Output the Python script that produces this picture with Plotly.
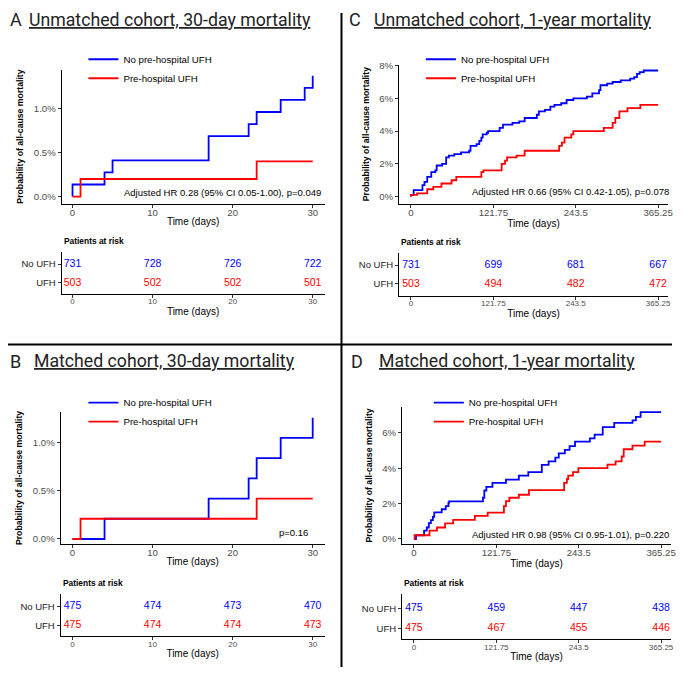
import plotly.graph_objects as go

# ---- data (percent mortality, step functions) ----
# A: unmatched cohort, 30 days
a_t_no = [0, 0, 4, 5, 17, 22, 23, 26, 29, 30]
a_p_no = [0, 0.137, 0.274, 0.41, 0.684, 0.82, 0.958, 1.094, 1.231, 1.368]
a_t_ufh = [0, 1, 23, 30]
a_p_ufh = [0, 0.199, 0.398, 0.398]
a_risk_no = [731, 728, 726, 722]
a_risk_ufh = [503, 502, 502, 501]

# B: matched cohort, 30 days
b_t_no = [0, 4, 17, 22, 23, 26, 30]
b_p_no = [0, 0.21, 0.42, 0.63, 0.84, 1.05, 1.26]
b_t_ufh = [0, 1, 23, 30]
b_p_ufh = [0, 0.21, 0.42, 0.42]
b_risk_no = [475, 474, 473, 470]
b_risk_ufh = [475, 474, 474, 473]

# C: unmatched cohort, 1 year
c_t_no = [0, 0, 4, 17, 20, 24, 30, 36, 38, 46, 52, 56, 64, 74, 86, 88, 97, 101, 104, 106,
          112, 114, 131, 136, 150, 160, 168, 186, 189, 198, 206, 212, 222, 230, 240, 260,
          268, 278, 280, 290, 298, 310, 324, 330, 334, 338, 344, 365.25]
c_p_no = [0, 0.1, 0.4, 0.7, 0.9, 1.2, 1.5, 1.6, 1.9, 2.0, 2.4, 2.5, 2.6, 2.7, 2.8, 3.1, 3.2,
          3.4, 3.6, 3.8, 3.9, 4.0, 4.2, 4.4, 4.5, 4.6, 4.8, 5.0, 5.2, 5.3, 5.5, 5.6, 5.7, 5.9,
          6.0, 6.1, 6.3, 6.5, 6.8, 6.9, 7.0, 7.1, 7.2, 7.3, 7.5, 7.6, 7.7, 7.7]
c_t_ufh = [0, 0, 9, 24, 33, 45, 60, 67, 104, 107, 134, 139, 142, 156, 168, 219, 223, 227,
           237, 240, 285, 298, 302, 308, 320, 339, 365.25]
c_p_ufh = [0, 0.1, 0.2, 0.45, 0.6, 0.8, 1.0, 1.2, 1.5, 1.6, 2.0, 2.2, 2.4, 2.5, 2.8, 3.1,
           3.3, 3.6, 3.8, 4.0, 4.2, 4.5, 4.8, 5.2, 5.4, 5.6, 5.6]
c_risk_no = [731, 699, 681, 667]
c_risk_ufh = [503, 494, 482, 472]

# D: matched cohort, 1 year
d_t_no = [0, 3, 15, 19, 22, 25, 28, 30, 41, 47, 51, 52, 102, 104, 107, 116, 136, 155, 169,
          189, 199, 209, 214, 223, 230, 238, 260, 267, 279, 296, 323, 328, 335, 365.25]
d_p_no = [0, 0.21, 0.47, 0.65, 0.9, 1.06, 1.25, 1.5, 1.68, 1.86, 2.05, 2.12, 2.33, 2.74,
          2.94, 3.17, 3.35, 3.58, 3.78, 4.19, 4.38, 4.6, 4.84, 5.03, 5.25, 5.5, 5.68, 5.9,
          6.32, 6.56, 6.7, 6.9, 7.17, 7.17]
d_t_ufh = [0, 1, 23, 34, 46, 58, 90, 109, 133, 136, 141, 155, 170, 222, 226, 228, 235, 243,
           286, 298, 307, 310, 323, 341, 365.25]
d_p_ufh = [0, 0.21, 0.47, 0.65, 0.88, 1.08, 1.3, 1.49, 1.86, 2.14, 2.33, 2.5, 2.76, 3.17,
           3.39, 3.58, 3.78, 4.0, 4.2, 4.38, 4.66, 5.07, 5.27, 5.5, 5.5]
d_risk_no = [475, 459, 447, 438]
d_risk_ufh = [475, 467, 455, 446]

days_30 = [0, 10, 20, 30]
days_365 = [0, 121.75, 243.5, 365.25]
days_365_labels = ['0', '121.75', '243.5', '365.25']
pct_ticks_30 = [0, 0.5, 1.0]
pct_labels_30 = ['0.0%', '0.5%', '1.0%']
pct_ticks_c = [0, 2, 4, 6, 8]
pct_ticks_d = [0, 2, 4, 6]

W, H = 685, 675
OFF = 8                      # page body margin
FW, FH = W - 2 * OFF, H - 2 * OFF
BLUE = '#0000FF'
RED = '#FF0000'
FONT = 'Liberation Sans, Arial, sans-serif'
TICK_GREY = '#4D4D4D'


def fx(p):
    return (p - OFF) / FW


def fy(p):
    return 1 - (p - OFF) / FH


fig = go.Figure()
annotations = []

panels = [
    dict(letter='A', title='Unmatched cohort, 30-day mortality', n=1, leg='legend',
         t_no=a_t_no, p_no=a_p_no, t_ufh=a_t_ufh, p_ufh=a_p_ufh,
         r_no=a_risk_no, r_ufh=a_risk_ufh, xt=days_30, xl=[str(v) for v in days_30],
         yt=pct_ticks_30, yl=pct_labels_30, note='Adjusted HR 0.28 (95% CI 0.05-1.00), p=0.049',
         left=62, right=327, x0=73, x1=315, xmax=30, top=65, bot=200, y0=193, yr_px=104, yr_v=1.0,
         ttop=249, tbot=291, rno=261, rufh=280, ty=15, tx=27, lx=8, legx=84, legy=40,
         note_x=325, note_y=189),
    dict(letter='C', title='Unmatched cohort, 1-year mortality', n=3, leg='legend2',
         t_no=c_t_no, p_no=c_p_no, t_ufh=c_t_ufh, p_ufh=c_p_ufh,
         r_no=c_risk_no, r_ufh=c_risk_ufh, xt=days_365, xl=days_365_labels,
         yt=pct_ticks_c, yl=[f'{v}%' for v in pct_ticks_c],
         note='Adjusted HR 0.66 (95% CI 0.42-1.05), p=0.078',
         left=402, right=673, x0=414, x1=663, xmax=365.25, top=60, bot=200, y0=193, yr_px=61, yr_v=8,
         ttop=250, tbot=293, rno=262, rufh=281, ty=15, tx=375, lx=350, legx=424, legy=40,
         note_x=676, note_y=188),
    dict(letter='B', title='Matched cohort, 30-day mortality', n=5, leg='legend3',
         t_no=b_t_no, p_no=b_p_no, t_ufh=b_t_ufh, p_ufh=b_p_ufh,
         r_no=b_risk_no, r_ufh=b_risk_ufh, xt=days_30, xl=[str(v) for v in days_30],
         yt=pct_ticks_30, yl=pct_labels_30, note='p=0.16',
         left=61, right=327, x0=73, x1=315, xmax=30, top=410, bot=543, y0=538, yr_px=441, yr_v=1.0,
         ttop=593, tbot=636, rno=606, rufh=625, ty=359, tx=32, lx=8, legx=84, legy=386,
         note_x=312, note_y=531),
    dict(letter='D', title='Matched cohort, 1-year mortality', n=7, leg='legend4',
         t_no=d_t_no, p_no=d_p_no, t_ufh=d_t_ufh, p_ufh=d_p_ufh,
         r_no=d_risk_no, r_ufh=d_risk_ufh, xt=days_365, xl=days_365_labels,
         yt=pct_ticks_d, yl=[f'{v}%' for v in pct_ticks_d],
         note='Adjusted HR 0.98 (95% CI 0.95-1.01), p=0.220',
         left=405, right=676, x0=417, x1=666, xmax=365.25, top=405, bot=543, y0=538, yr_px=431, yr_v=6,
         ttop=593, tbot=639, rno=608, rufh=628, ty=359, tx=380, lx=352, legx=432, legy=386,
         note_x=676, note_y=533),
]

axis_common = dict(showgrid=False, zeroline=False, showline=True, linecolor='black', linewidth=1,
                   ticks='outside', ticklen=3, tickcolor='#333333', tickwidth=1,
                   ticklabeloverflow='allow',
                   tickfont=dict(family=FONT, size=9.6, color=TICK_GREY))

for p in panels:
    n, m = p['n'], p['n'] + 1
    xs = 'x' if n == 1 else f'x{n}'
    ys = 'y' if n == 1 else f'y{n}'
    xs2, ys2 = f'x{m}', f'y{m}'
    k = p['xmax'] / (p['x1'] - p['x0'])
    xrange = [(p['left'] - p['x0']) * k, (p['right'] - p['x0']) * k]
    s = p['yr_v'] / (p['y0'] - p['yr_px'])
    yrange = [-(p['bot'] - p['y0']) * s, (p['y0'] - p['top']) * s]
    u = p['rufh'] - p['rno']
    trange = [1 - (p['tbot'] - p['rufh']) / u, 2 + (p['rno'] - p['ttop']) / u]

    # cumulative mortality curves
    fig.add_trace(go.Scatter(x=p['t_no'], y=p['p_no'], mode='lines', line=dict(color=BLUE, width=1.8, shape='hv'),
                             name='No pre-hospital UFH', legend=p['leg'], xaxis=xs, yaxis=ys))
    fig.add_trace(go.Scatter(x=p['t_ufh'], y=p['p_ufh'], mode='lines', line=dict(color=RED, width=1.8, shape='hv'),
                             name='Pre-hospital UFH', legend=p['leg'], xaxis=xs, yaxis=ys))
    # patients at risk table
    fig.add_trace(go.Scatter(x=p['xt'], y=[2] * len(p['xt']), mode='text', text=[str(v) for v in p['r_no']],
                             textfont=dict(family=FONT, size=10.5, color=BLUE), showlegend=False,
                             xaxis=xs2, yaxis=ys2))
    fig.add_trace(go.Scatter(x=p['xt'], y=[1] * len(p['xt']), mode='text', text=[str(v) for v in p['r_ufh']],
                             textfont=dict(family=FONT, size=10.5, color=RED), showlegend=False,
                             xaxis=xs2, yaxis=ys2))

    xkey = 'xaxis' if n == 1 else f'xaxis{n}'
    ykey = 'yaxis' if n == 1 else f'yaxis{n}'
    fig.layout[xkey] = dict(axis_common, domain=[fx(p['left']), fx(p['right'])], range=xrange,
                            tickvals=p['xt'], ticktext=p['xl'], anchor=ys, ticklabelstandoff=-3,
                            title=dict(text='Time (days)', font=dict(family=FONT, size=10, color='black'), standoff=0))
    fig.layout[ykey] = dict(axis_common, domain=[fy(p['bot']), fy(p['top'])], range=yrange,
                            tickvals=p['yt'], ticktext=p['yl'], anchor=xs,
                            title=dict(text='<b>Probability of all-cause mortality</b>',
                                       font=dict(family=FONT, size=8.7, color='black'), standoff=8))
    fig.layout[f'xaxis{m}'] = dict(axis_common, domain=[fx(p['left']), fx(p['right'])], range=xrange,
                                   tickvals=p['xt'], ticktext=p['xl'], anchor=ys2, ticklabelstandoff=-3,
                                   tickfont=dict(family=FONT, size=8, color=TICK_GREY),
                                   title=dict(text='Time (days)', font=dict(family=FONT, size=10, color='black'), standoff=2))
    fig.layout[f'yaxis{m}'] = dict(axis_common, domain=[fy(p['tbot']), fy(p['ttop'])], range=trange,
                                   tickvals=[2, 1], ticktext=['No UFH', 'UFH'], anchor=xs2,
                                   tickfont=dict(family=FONT, size=9.5, color='#222222'))
    fig.layout[p['leg']] = dict(x=fx(p['legx']), y=fy(p['legy']), xanchor='left', yanchor='top',
                                bgcolor='rgba(0,0,0,0)', font=dict(family=FONT, size=9.7, color='black'),
                                itemwidth=30, tracegroupgap=0)

    annotations += [
        dict(text=p['letter'], x=fx(p['lx']), y=fy(p['ty']), xref='paper', yref='paper',
             xanchor='left', yanchor='middle', showarrow=False,
             font=dict(family='Roboto', size=18, color='#222222')),
        dict(text=f"<u>{p['title']}</u>", x=fx(p['tx']), y=fy(p['ty']), xref='paper', yref='paper',
             xanchor='left', yanchor='middle', showarrow=False,
             font=dict(family='Roboto', size=17.7, color='#222222')),
        dict(text='<b>Patients at risk</b>', x=fx(p['left']), y=fy(p['ttop'] - 11), xref='paper', yref='paper',
             xanchor='left', yanchor='middle', showarrow=False,
             font=dict(family=FONT, size=8.4, color='black')),
        dict(text=p['note'], x=fx(p['note_x']), y=fy(p['note_y']), xref='paper', yref='paper',
             xanchor='right', yanchor='middle', showarrow=False,
             font=dict(family=FONT, size=9.5, color='black')),
    ]

fig.update_layout(
    width=FW, height=FH, margin=dict(l=0, r=0, t=0, b=0),
    paper_bgcolor='white', plot_bgcolor='white',
    annotations=annotations,
    shapes=[
        dict(type='line', xref='paper', yref='paper', x0=fx(344), x1=fx(344), y0=0, y1=1,
             line=dict(color='black', width=2)),
        dict(type='line', xref='paper', yref='paper', x0=0, x1=1, y0=fy(342), y1=fy(342),
             line=dict(color='black', width=2)),
    ],
)

fig.write_html("out.html")
